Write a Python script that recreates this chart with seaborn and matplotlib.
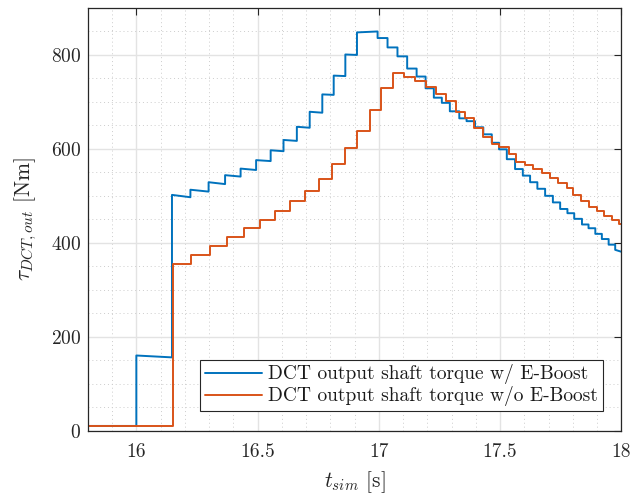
import numpy as np
import pandas as pd
import matplotlib
matplotlib.use("Agg")
import matplotlib.pyplot as plt
from matplotlib.ticker import MultipleLocator
import seaborn as sns

# ---- data (step edges in s, level at start / end of each step in Nm) ----
blue_edges = [15.8, 16.0, 16.147, 16.223, 16.298, 16.366, 16.43, 16.494, 16.554, 16.607,
              16.662, 16.715, 16.767, 16.814, 16.862, 16.91, 16.995, 17.036, 17.077, 17.117,
              17.156, 17.193, 17.227, 17.26, 17.293, 17.332, 17.362, 17.397, 17.431, 17.466,
              17.496, 17.528, 17.562, 17.594, 17.624, 17.654, 17.686, 17.718, 17.748, 17.778,
              17.806, 17.838, 17.865, 17.893, 17.92, 17.948, 17.975, 18.0]
blue_start = [10, 160, 502, 513, 529, 544, 558, 576, 597, 619,
              647, 679, 716, 756, 801, 848, 836, 816, 797, 771,
              754, 729, 709, 698, 680, 665, 659, 646, 631, 613,
              599, 578, 557, 543, 529, 515, 500, 486, 472, 463,
              451, 439, 431, 419, 408, 396, 385]
blue_end = [10, 156, 497, 509, 525, 541, 555, 574, 595, 617,
            645, 677, 715, 755, 800, 850, 836, 816, 797, 771,
            754, 729, 709, 698, 680, 665, 659, 646, 631, 613,
            599, 578, 557, 543, 529, 515, 500, 486, 472, 463,
            451, 439, 431, 419, 408, 396, 381]

orange_edges = [15.8, 16.152, 16.226, 16.302, 16.375, 16.444, 16.508, 16.573, 16.635, 16.694,
                16.752, 16.807, 16.86, 16.91, 16.963, 17.011, 17.059, 17.103, 17.149, 17.193,
                17.236, 17.277, 17.318, 17.355, 17.393, 17.431, 17.466, 17.496, 17.535, 17.566,
                17.603, 17.638, 17.672, 17.707, 17.741, 17.776, 17.803, 17.834, 17.866, 17.9,
                17.93, 17.962, 17.99, 18.0]
orange_levels = [10, 355, 373, 394, 413, 431, 449, 468, 488, 511,
                 536, 567, 601, 639, 682, 729, 761, 754, 744, 732,
                 717, 701, 679, 665, 645, 625, 611, 603, 589, 572,
                 566, 558, 548, 538, 527, 517, 502, 490, 476, 467,
                 458, 449, 439]

label_blue = "DCT output shaft torque w/ E-Boost"
label_orange = "DCT output shaft torque w/o E-Boost"
x_ticks = [16, 16.5, 17, 17.5, 18]
y_ticks = [0, 200, 400, 600, 800]


def polyline(edges, start, end):
    t, y = [], []
    for i in range(len(start)):
        t += [edges[i], edges[i + 1]]
        y += [start[i], end[i]]
    return pd.DataFrame({"t": t, "y": y})


df_b = polyline(blue_edges, blue_start, blue_end)
df_o = polyline(orange_edges, orange_levels, orange_levels)

sns.set_style("white")
plt.rcParams["font.family"] = "serif"
plt.rcParams["font.serif"] = ["cmr10", "DejaVu Serif"]
plt.rcParams["mathtext.fontset"] = "cm"
plt.rcParams["axes.formatter.use_mathtext"] = True

axc = "#262626"
fig = plt.figure(figsize=(6.32, 4.99), dpi=100)
ax = fig.add_axes([0.139, 0.137, 0.844, 0.847])

sns.lineplot(data=df_b, x="t", y="y", estimator=None, sort=False, color="#0072BD",
             lw=1.4, ax=ax, label=label_blue)
sns.lineplot(data=df_o, x="t", y="y", estimator=None, sort=False, color="#D95319",
             lw=1.4, ax=ax, label=label_orange)

ax.set_xlim(15.8, 18)
ax.set_ylim(0, 900)
ax.set_xticks(x_ticks)
ax.set_xticklabels([f"{v:g}" for v in x_ticks])
ax.set_yticks(y_ticks)
ax.xaxis.set_minor_locator(MultipleLocator(0.1))
ax.yaxis.set_minor_locator(MultipleLocator(50))
ax.grid(which="major", color="#e3e3e3", lw=1.0, ls="-")
ax.grid(which="minor", color="#cccccc", lw=0.7, ls=(0, (1, 3)))
ax.set_axisbelow(True)
ax.tick_params(which="major", direction="in", length=5, width=0.8, colors=axc,
               top=True, right=True, labelsize=14)
ax.tick_params(axis="y", pad=5)
ax.tick_params(axis="x", pad=9)
ax.tick_params(which="minor", length=0)
for s in ax.spines.values():
    s.set_color(axc)
    s.set_linewidth(0.9)

ax.set_xlabel(r"$t_{sim}$ [s]", fontsize=15.5, color=axc, labelpad=6)
ax.set_ylabel(r"$\tau_{DCT,out}$ [Nm]", fontsize=15.5, color=axc, labelpad=8)

leg = ax.legend(loc="lower right", bbox_to_anchor=(0.966, 0.046), fontsize=14,
                frameon=True, fancybox=False, edgecolor=axc, framealpha=1,
                handlelength=2.9, borderpad=0.25, labelspacing=0.1, handletextpad=0.35,
                borderaxespad=0)
leg.get_frame().set_linewidth(0.8)
for txt in leg.get_texts():
    txt.set_color("#1a1a1a")

fig.savefig("out.png", dpi=100)
